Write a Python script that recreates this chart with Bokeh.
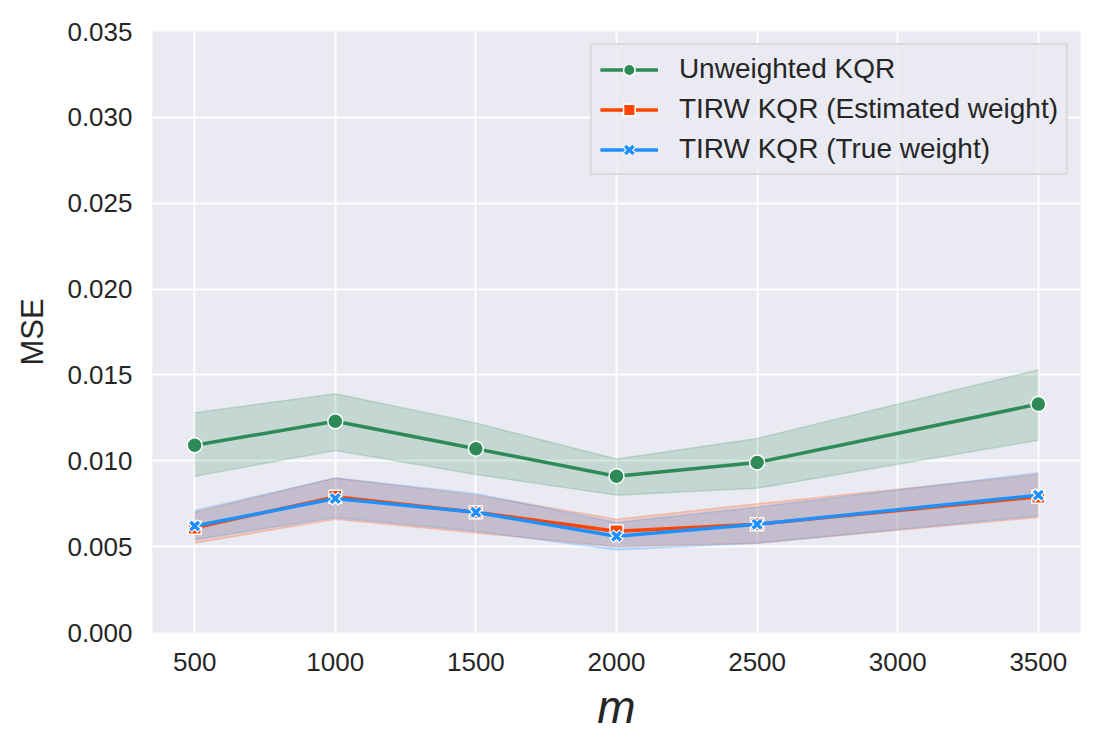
from bokeh.plotting import figure
from bokeh.models import Legend, LegendItem, FixedTicker, CustomJSTickFormatter, Range1d
from bokeh.embed import file_html
from bokeh.resources import INLINE

m_vals = [500, 1000, 1500, 2000, 2500, 3500]

unw_mean = [0.0109, 0.0123, 0.0107, 0.0091, 0.0099, 0.0133]
unw_low = [0.0091, 0.0106, 0.0092, 0.0080, 0.0084, 0.0112]
unw_high = [0.0128, 0.0139, 0.0122, 0.0101, 0.0113, 0.0153]

est_mean = [0.0061, 0.0079, 0.0070, 0.0059, 0.0063, 0.0079]
est_low = [0.0052, 0.0066, 0.0058, 0.0050, 0.0052, 0.0067]
est_high = [0.0070, 0.0090, 0.0080, 0.0066, 0.0075, 0.0092]

true_mean = [0.0062, 0.0078, 0.0070, 0.0056, 0.0063, 0.0080]
true_low = [0.0054, 0.0067, 0.0059, 0.0048, 0.0052, 0.0068]
true_high = [0.0071, 0.0090, 0.0081, 0.0064, 0.0073, 0.0093]

x_ticks = [500, 1000, 1500, 2000, 2500, 3000, 3500]
y_ticks = [0.0, 0.005, 0.010, 0.015, 0.020, 0.025, 0.030, 0.035]

GREEN = "#2E8B57"
RED = "#FF4500"
BLUE = "#1E90FF"
TXT = "#262626"
FONT = "Liberation Sans"

p = figure(frame_width=928, frame_height=601, output_backend="svg", toolbar_location=None,
           x_range=Range1d(350, 3650), y_range=Range1d(0, 0.035),
           min_border_left=152, min_border_right=12, min_border_top=31, min_border_bottom=100)
p.background_fill_color = "#EAEAF2"
p.border_fill_color = "white"
p.outline_line_color = None

for ax in (p.xaxis, p.yaxis):
    ax.axis_line_color = None
    ax.major_tick_line_color = None
    ax.minor_tick_line_color = None
    ax.major_tick_out = 0
    ax.major_tick_in = 0
    ax.major_label_text_font = FONT
    ax.major_label_text_font_size = "26px"
    ax.major_label_text_color = TXT
    ax.axis_label_text_color = TXT

p.xaxis.ticker = FixedTicker(ticks=x_ticks)
p.yaxis.ticker = FixedTicker(ticks=y_ticks)
p.yaxis.formatter = CustomJSTickFormatter(code="return tick.toFixed(3);")
p.xaxis.major_label_standoff = 20
p.yaxis.major_label_standoff = 20

p.xaxis.axis_label = "m"
p.xaxis.axis_label_text_font = FONT
p.xaxis.axis_label_text_font_style = "italic"
p.xaxis.axis_label_text_font_size = "46px"
p.xaxis.axis_label_standoff = 7
p.yaxis.axis_label = "MSE"
p.yaxis.axis_label_text_font = FONT
p.yaxis.axis_label_text_font_style = "normal"
p.yaxis.axis_label_text_font_size = "31px"
p.yaxis.axis_label_standoff = 14

p.xgrid.grid_line_color = "white"
p.ygrid.grid_line_color = "white"
p.xgrid.grid_line_width = 2
p.ygrid.grid_line_width = 2

def band(xs, lo, hi, color):
    p.varea(x=xs, y1=lo, y2=hi, fill_color=color, fill_alpha=0.2)
    p.line(xs, lo, line_color=color, line_alpha=0.2, line_width=1.5)
    p.line(xs, hi, line_color=color, line_alpha=0.2, line_width=1.5)

band(m_vals, unw_low, unw_high, GREEN)
band(m_vals, est_low, est_high, RED)
band(m_vals, true_low, true_high, BLUE)

l1 = p.line(m_vals, unw_mean, line_color=GREEN, line_width=3.5)
s1 = p.scatter(m_vals, unw_mean, marker="circle", size=15, fill_color=GREEN, line_color="white", line_width=1.5)
l2 = p.line(m_vals, est_mean, line_color=RED, line_width=3.5)
s2 = p.scatter(m_vals, est_mean, marker="square", size=13, fill_color=RED, line_color="white", line_width=1.5)
l3 = p.line(m_vals, true_mean, line_color=BLUE, line_width=3.5)
s3w = p.scatter(m_vals, true_mean, marker="x", size=14, line_color="white", line_width=6)
s3 = p.scatter(m_vals, true_mean, marker="x", size=12, line_color=BLUE, line_width=3.5)

legend = Legend(items=[
    LegendItem(label="Unweighted KQR", renderers=[l1, s1]),
    LegendItem(label="TIRW KQR (Estimated weight)", renderers=[l2, s2]),
    LegendItem(label="TIRW KQR (True weight)", renderers=[l3, s3w, s3]),
], location="top_right")
legend.label_text_font = FONT
legend.label_text_font_size = "28px"
legend.label_text_color = TXT
legend.glyph_width = 58
legend.glyph_height = 29
legend.label_height = 29
legend.spacing = 8
legend.padding = 8
legend.margin = 12
legend.label_standoff = 21
legend.background_fill_color = "#EAEAF2"
legend.background_fill_alpha = 0.8
legend.border_line_color = "#CCCCCC"
legend.border_line_width = 2
p.add_layout(legend)

open("out.html", "w").write(file_html(p, INLINE))
